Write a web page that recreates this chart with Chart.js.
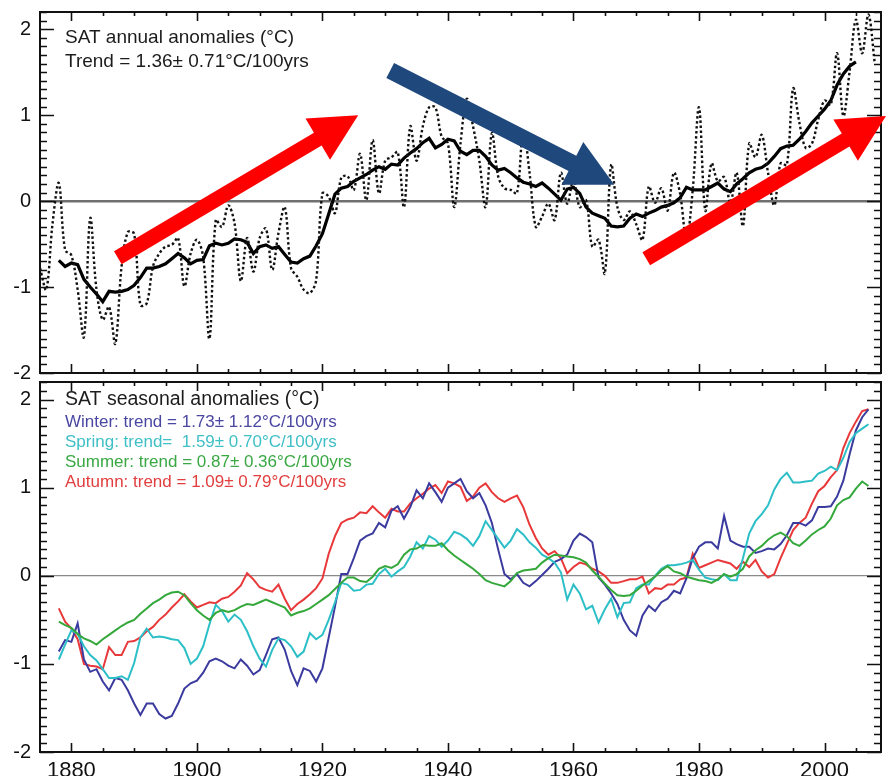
<!DOCTYPE html>
<html>
<head>
<meta charset="utf-8">
<script src="https://cdn.jsdelivr.net/npm/chart.js@4.4.1/dist/chart.umd.min.js"></script>
<style>
  html, body { margin: 0; padding: 0; background: #fff; }
  body { width: 886px; height: 776px; position: relative; overflow: hidden; }
  #annual { position: absolute; left: 0; top: 0; width: 886px; height: 380px; }
  #seasonal { position: absolute; left: 0; top: 376px; width: 886px; height: 400px; }
</style>
</head>
<body>
<canvas id="annual" width="886" height="380"></canvas>
<canvas id="seasonal" width="886" height="400"></canvas>
<script>
// ---- Axis ticks ----
const yearLabels = [1880, 1900, 1920, 1940, 1960, 1980, 2000];
const anomalyTicks = [-2, -1, 0, 1, 2];

// ---- Annual SAT anomalies (°C), 1875-2008 ----
const annualStart = 1875;
const annualAnomaly = [
  -0.78, -1.03, -0.26, 0.21, -0.57,
  -0.63, -1.03, -1.58, -0.20, -1.03, -1.38, -1.23, -1.66, -0.76, -0.36,
  -0.38, -1.21, -1.19, -0.76, -0.61, -0.53, -0.51, -0.43, -0.99, -0.61,
  -0.45, -0.65, -1.60, -0.22, -0.30, -0.05, -0.26, -0.93, -0.43, -0.82,
  -0.43, -0.32, -0.80, -0.37, -0.07, -0.78, -0.88, -1.03, -1.07, -0.92,
  0.09, 0.05, -0.14, 0.27, 0.29, 0.13, 0.55, 0.01, 0.71, 0.09,
  0.47, 0.51, 0.57, -0.07, 0.87, 0.47, 0.87, 1.09, 1.09, 0.75,
  0.67, -0.07, 0.67, 1.19, 0.87, 0.47, -0.07, 0.79, 0.29, 0.15,
  0.13, 0.09, 0.83, 0.33, -0.30, -0.18, -0.03, -0.22, 0.33, -0.03,
  0.25, -0.07, 0.01, -0.53, -0.45, -0.84, 0.42, -0.07, -0.22, -0.12,
  -0.27, -0.45, 0.17, -0.02, 0.15, -0.11, 0.33, 0.08, -0.45, 0.13,
  1.09, -0.11, 0.44, 0.23, 0.28, -0.02, 0.33, -0.29, 0.67, 0.51,
  0.77, 0.33, -0.05, 0.44, 0.42, 1.31, 0.91, 0.62, 0.67, 0.95,
  1.17, 1.12, 1.72, 0.99, 1.51, 2.11, 1.72, 2.17, 1.61
];

// ---- Running mean of annual anomalies, 1878-2005 ----
const runningStart = 1878;
const runningMean = [
  -0.69, -0.76,
  -0.72, -0.74, -0.91, -1.00, -1.08, -1.17, -1.05, -1.06, -1.05, -1.03,
  -0.98, -0.89, -0.78, -0.78, -0.76, -0.73, -0.67, -0.61, -0.66, -0.73,
  -0.69, -0.68, -0.52, -0.49, -0.51, -0.49, -0.44, -0.45, -0.48, -0.61,
  -0.53, -0.51, -0.55, -0.53, -0.62, -0.71, -0.72, -0.67, -0.64, -0.52,
  -0.38, -0.15, 0.08, 0.15, 0.17, 0.23, 0.27, 0.31, 0.36, 0.40,
  0.37, 0.43, 0.42, 0.50, 0.56, 0.61, 0.68, 0.73, 0.62, 0.66,
  0.72, 0.70, 0.58, 0.54, 0.59, 0.59, 0.52, 0.42, 0.36, 0.38,
  0.33, 0.27, 0.22, 0.20, 0.17, 0.21, 0.15, 0.08, 0.01, 0.14,
  0.16, 0.09, -0.07, -0.14, -0.17, -0.20, -0.29, -0.30, -0.29, -0.20,
  -0.15, -0.18, -0.14, -0.11, -0.07, -0.05, -0.02, 0.04, 0.16, 0.13,
  0.13, 0.13, 0.17, 0.21, 0.14, 0.11, 0.20, 0.26, 0.33, 0.37,
  0.39, 0.44, 0.52, 0.61, 0.64, 0.65, 0.72, 0.81, 0.91, 0.99,
  1.07, 1.17, 1.35, 1.48, 1.57, 1.62
];

// ---- Seasonal SAT anomalies (°C), 1878-2007 ----
const seasonStart = 1878;
const winter = [
  -0.86, -0.73,
  -0.75, -0.54, -0.95, -1.09, -1.06, -1.20, -1.30, -1.16, -1.18, -1.30,
  -1.45, -1.58, -1.45, -1.45, -1.57, -1.62, -1.59, -1.45, -1.28, -1.22,
  -1.19, -1.10, -0.97, -0.94, -0.97, -1.02, -1.05, -0.95, -1.02, -1.12,
  -1.07, -0.90, -0.72, -0.70, -0.84, -1.08, -1.24, -1.05, -1.08, -1.20,
  -1.05, -0.70, -0.35, 0.02, 0.02, 0.20, 0.40, 0.45, 0.48, 0.60,
  0.55, 0.74, 0.79, 0.65, 0.78, 0.97, 0.88, 1.05, 0.95, 0.84,
  1.00, 1.05, 1.10, 0.96, 0.88, 0.94, 0.80, 0.60, 0.30, 0.02,
  -0.04, 0.02, -0.08, -0.12, -0.06, 0.01, 0.08, 0.16, 0.19, 0.24,
  0.40, 0.48, 0.44, 0.38, -0.02, -0.10, -0.20, -0.32, -0.50, -0.62,
  -0.68, -0.45, -0.34, -0.40, -0.30, -0.26, -0.17, -0.20, -0.03, 0.20,
  0.33, 0.38, 0.38, 0.31, 0.68, 0.40, 0.36, 0.33, 0.33, 0.26,
  0.28, 0.31, 0.30, 0.36, 0.46, 0.60, 0.60, 0.57, 0.63, 0.78,
  0.78, 0.79, 0.90, 1.08, 1.38, 1.65, 1.80, 1.89
];
const spring = [
  -0.95, -0.78,
  -0.62, -0.66, -0.80, -0.90, -0.96, -1.06, -1.16, -1.16, -1.14, -1.18,
  -0.99, -0.70, -0.60, -0.70, -0.69, -0.70, -0.72, -0.73, -0.82, -1.00,
  -0.94, -0.80, -0.55, -0.33, -0.40, -0.52, -0.44, -0.50, -0.63, -0.80,
  -0.94, -1.03, -0.84, -0.71, -0.73, -0.80, -0.92, -0.86, -0.65, -0.72,
  -0.67, -0.50, -0.30, -0.08, -0.10, -0.17, -0.16, -0.10, -0.09, 0.02,
  0.08, -0.01, 0.05, 0.10, 0.22, 0.38, 0.31, 0.45, 0.41, 0.33,
  0.40, 0.50, 0.47, 0.42, 0.34, 0.45, 0.62, 0.52, 0.42, 0.32,
  0.40, 0.53, 0.47, 0.38, 0.32, 0.24, 0.20, 0.15, 0.04, -0.27,
  -0.10, -0.20, -0.38, -0.34, -0.53, -0.38, -0.26, -0.47, -0.31, -0.30,
  -0.14, -0.10, -0.10, 0.00, 0.08, 0.12, 0.12, 0.13, 0.15, 0.18,
  0.07, -0.02, -0.04, -0.05, 0.02, -0.05, -0.05, 0.20, 0.48, 0.62,
  0.70, 0.80, 0.98, 1.10, 1.17, 1.06, 1.06, 1.07, 1.08, 1.16,
  1.19, 1.24, 1.20, 1.34, 1.52, 1.62, 1.67, 1.72
];
const summer = [
  -0.52, -0.56,
  -0.59, -0.66, -0.71, -0.74, -0.78, -0.72, -0.67, -0.62, -0.57, -0.53,
  -0.50, -0.43, -0.37, -0.31, -0.27, -0.22, -0.19, -0.18, -0.22, -0.31,
  -0.39, -0.45, -0.50, -0.42, -0.39, -0.41, -0.39, -0.35, -0.32, -0.33,
  -0.30, -0.27, -0.30, -0.33, -0.36, -0.45, -0.42, -0.40, -0.37, -0.32,
  -0.27, -0.22, -0.15, -0.08, -0.02, -0.02, -0.06, -0.07, -0.01, 0.08,
  0.11, 0.09, 0.13, 0.24, 0.30, 0.31, 0.35, 0.34, 0.34, 0.37,
  0.29, 0.23, 0.18, 0.13, 0.08, 0.02, -0.05, -0.08, -0.10, -0.12,
  -0.06, 0.03, 0.06, 0.07, 0.08, 0.15, 0.20, 0.24, 0.23, 0.22,
  0.21, 0.19, 0.15, 0.06, -0.01, -0.09, -0.16, -0.22, -0.23, -0.22,
  -0.17, -0.11, -0.06, -0.01, 0.06, 0.11, 0.05, 0.03, -0.01, -0.03,
  -0.05, -0.06, -0.08, -0.04, 0.02, -0.01, 0.02, 0.08, 0.22, 0.29,
  0.34, 0.41, 0.46, 0.49, 0.45, 0.37, 0.34, 0.40, 0.47, 0.52,
  0.56, 0.65, 0.80, 0.86, 0.89, 0.99, 1.07, 1.02
];
const autumn = [
  -0.37, -0.52,
  -0.60, -0.72, -1.00, -1.02, -1.03, -1.06, -0.81, -0.90, -0.90, -0.75,
  -0.74, -0.70, -0.63, -0.58, -0.50, -0.44, -0.36, -0.29, -0.21, -0.29,
  -0.36, -0.33, -0.30, -0.31, -0.26, -0.24, -0.18, -0.11, 0.03, -0.04,
  -0.13, -0.16, -0.18, -0.10, -0.26, -0.39, -0.32, -0.27, -0.21, -0.14,
  -0.03, 0.25, 0.45, 0.60, 0.64, 0.66, 0.72, 0.71, 0.79, 0.72,
  0.66, 0.76, 0.73, 0.73, 0.82, 0.88, 0.93, 0.99, 1.03, 0.94,
  1.07, 1.05, 1.01, 0.85, 0.90, 1.00, 1.05, 0.95, 0.88, 0.84,
  0.88, 0.91, 0.78, 0.58, 0.43, 0.31, 0.24, 0.28, 0.20, 0.03,
  0.10, 0.15, 0.13, 0.08, 0.05, 0.00, -0.08, -0.08, -0.06, -0.04,
  -0.04, -0.01, -0.20, -0.14, -0.15, -0.10, -0.10, -0.04, -0.02, 0.25,
  0.09, 0.12, 0.15, 0.18, 0.16, 0.14, 0.08, 0.16, 0.10, 0.18,
  0.05, -0.02, 0.02, 0.20, 0.36, 0.52, 0.60, 0.66, 0.82, 0.96,
  1.02, 1.12, 1.20, 1.45, 1.62, 1.75, 1.87, 1.89
];

// ---- Trend arrows drawn over the annual panel: [year, anomaly] ----
const arrowTails = [[1887.4, -0.66], [1930.8, 1.52], [1971.6, -0.67]];
const arrowTips  = [[1925.7, 1.00], [1966.5, 0.19], [2009.8, 0.99]];

const FONT = '"Liberation Sans", Arial, Helvetica, sans-serif';
Chart.defaults.font.family = FONT;

const toPoints = (start, values) => values.map((v, i) => ({ x: start + i, y: v }));

// Inward tick marks on all four sides plus the box around the plot area.
const frameTicks = {
  id: 'frameTicks',
  afterDatasetsDraw(chart) {
    const { ctx, chartArea: a, scales: { x, y } } = chart;
    ctx.save();
    ctx.strokeStyle = '#111';
    ctx.lineWidth = 1.6;
    ctx.beginPath();
    for (let yr = Math.ceil(x.min / 5) * 5; yr <= x.max; yr += 5) {
      if (yr <= x.min) continue;
      const px = Math.round(x.getPixelForValue(yr)) + 0.5;
      const len = yr % 20 === 0 ? 9 : 4;
      ctx.moveTo(px, a.bottom); ctx.lineTo(px, a.bottom - len);
      ctx.moveTo(px, a.top); ctx.lineTo(px, a.top + len);
    }
    for (let k = Math.ceil(y.min * 10 - 1e-6); k <= Math.floor(y.max * 10 + 1e-6); k++) {
      const py = Math.round(y.getPixelForValue(k / 10)) + 0.5;
      const len = k % 10 === 0 ? 14 : 7;
      ctx.moveTo(a.left, py); ctx.lineTo(a.left + len, py);
      ctx.moveTo(a.right, py); ctx.lineTo(a.right - len, py);
    }
    ctx.stroke();
    ctx.lineWidth = 2;
    ctx.strokeRect(a.left, a.top, a.right - a.left, a.bottom - a.top);
    ctx.restore();
  }
};

// Panel captions.
const panelText = {
  id: 'panelText',
  afterDraw(chart, args, opts) {
    const ctx = chart.ctx;
    ctx.save();
    ctx.textAlign = 'left';
    ctx.textBaseline = 'middle';
    for (const line of opts.lines || []) {
      ctx.font = line.font;
      ctx.fillStyle = line.color;
      ctx.fillText(line.text, line.x, line.y);
    }
    ctx.restore();
  }
};

// Block arrows anchored in data coordinates.
const trendArrows = {
  id: 'trendArrows',
  afterDraw(chart, args, opts) {
    const { ctx, scales: { x, y } } = chart;
    ctx.save();
    for (const ar of opts.arrows || []) {
      const t0 = { x: x.getPixelForValue(ar.from[0]), y: y.getPixelForValue(ar.from[1]) };
      const t1 = { x: x.getPixelForValue(ar.to[0]), y: y.getPixelForValue(ar.to[1]) };
      const dx = t1.x - t0.x, dy = t1.y - t0.y;
      const L = Math.hypot(dx, dy);
      const u = { x: dx / L, y: dy / L };
      const n = { x: -u.y, y: u.x };
      const w = ar.shaft / 2, h = opts.headHalf;
      const b = { x: t1.x - u.x * opts.headLen, y: t1.y - u.y * opts.headLen };
      ctx.fillStyle = ar.color;
      ctx.beginPath();
      ctx.moveTo(t0.x + n.x * w, t0.y + n.y * w);
      ctx.lineTo(b.x + n.x * w, b.y + n.y * w);
      ctx.lineTo(b.x + n.x * h, b.y + n.y * h);
      ctx.lineTo(t1.x, t1.y);
      ctx.lineTo(b.x - n.x * h, b.y - n.y * h);
      ctx.lineTo(b.x - n.x * w, b.y - n.y * w);
      ctx.lineTo(t0.x - n.x * w, t0.y - n.y * w);
      ctx.closePath();
      ctx.fill();
    }
    ctx.restore();
  }
};

function makeScales(showYears, zeroColor, zeroWidth) {
  return {
    x: {
      type: 'linear', min: 1875, max: 2009, display: showYears,
      afterBuildTicks: s => { s.ticks = yearLabels.map(v => ({ value: v })); },
      afterFit: s => {
        if (showYears) s.height = 24;
        s.paddingLeft = 0; s.paddingRight = 0;
      },
      grid: { display: false, drawTicks: false },
      border: { display: false },
      ticks: { padding: 6, color: '#111', font: { size: 22 }, maxRotation: 0, autoSkip: false,
               callback: v => String(v) }
    },
    y: {
      type: 'linear', min: -2, max: 2.2,
      afterBuildTicks: s => { s.ticks = anomalyTicks.map(v => ({ value: v })); },
      afterFit: s => { s.width = 40; s.paddingTop = 0; s.paddingBottom = 0; },
      grid: {
        drawTicks: false,
        color: c => (c.tick && c.tick.value === 0) ? zeroColor : 'rgba(0,0,0,0)',
        lineWidth: zeroWidth
      },
      border: { display: false },
      ticks: { padding: 9, color: '#111', font: { size: 20 }, callback: v => String(v) }
    }
  };
}

const common = {
  responsive: false,
  animation: false,
  events: [],
  elements: { point: { radius: 0 } }
};

// Annual panel
new Chart(document.getElementById('annual'), {
  type: 'line',
  data: {
    datasets: [
      { data: toPoints(annualStart, annualAnomaly), borderColor: '#111', borderWidth: 2.4,
        borderDash: [2.5, 2.5], tension: 0.35, fill: false },
      { data: toPoints(runningStart, runningMean), borderColor: '#000', borderWidth: 3.2,
        tension: 0, fill: false }
    ]
  },
  options: {
    ...common,
    layout: { padding: { top: 12, right: 5, bottom: 7, left: 0 } },
    scales: makeScales(false, '#707070', 2.5),
    plugins: {
      legend: { display: false }, tooltip: { enabled: false },
      panelText: { lines: [
        { text: 'SAT annual anomalies (°C)', x: 65, y: 38, font: '19px ' + FONT, color: '#1c1c1c' },
        { text: 'Trend = 1.36± 0.71°C/100yrs', x: 65, y: 62, font: '19px ' + FONT, color: '#1c1c1c' }
      ] },
      trendArrows: {
        headLen: 47, headHalf: 24,
        arrows: [
          { from: arrowTails[0], to: arrowTips[0], color: '#ff0000', shaft: 15 },
          { from: arrowTails[1], to: arrowTips[1], color: '#1f497d', shaft: 17 },
          { from: arrowTails[2], to: arrowTips[2], color: '#ff0000', shaft: 15 }
        ]
      }
    }
  },
  plugins: [frameTicks, panelText, trendArrows]
});

// Seasonal panel
new Chart(document.getElementById('seasonal'), {
  type: 'line',
  data: {
    datasets: [
      { label: 'Summer', data: toPoints(seasonStart, summer), borderColor: '#34a83b', borderWidth: 2, tension: 0 },
      { label: 'Spring', data: toPoints(seasonStart, spring), borderColor: '#2cbfc7', borderWidth: 2, tension: 0 },
      { label: 'Winter', data: toPoints(seasonStart, winter), borderColor: '#3b3b9f', borderWidth: 2, tension: 0 },
      { label: 'Autumn', data: toPoints(seasonStart, autumn), borderColor: '#e8383a', borderWidth: 2, tension: 0 }
    ]
  },
  options: {
    ...common,
    layout: { padding: { top: 6, right: 5, bottom: 0, left: 0 } },
    scales: makeScales(true, '#8a8a8a', 1.3),
    plugins: {
      legend: { display: false }, tooltip: { enabled: false },
      panelText: { lines: [
        { text: 'SAT seasonal anomalies (°C)', x: 65, y: 24, font: '19.5px ' + FONT, color: '#1c1c1c' },
        { text: 'Winter: trend = 1.73± 1.12°C/100yrs', x: 65, y: 46, font: '17px ' + FONT, color: '#4a47a3' },
        { text: 'Spring: trend=  1.59± 0.70°C/100yrs', x: 65, y: 66, font: '17px ' + FONT, color: '#3fbfc6' },
        { text: 'Summer: trend = 0.87± 0.36°C/100yrs', x: 65, y: 86, font: '17px ' + FONT, color: '#3aa843' },
        { text: 'Autumn: trend = 1.09± 0.79°C/100yrs', x: 65, y: 106, font: '17px ' + FONT, color: '#e23e3e' }
      ] }
    }
  },
  plugins: [frameTicks, panelText]
});
</script>
</body>
</html>
